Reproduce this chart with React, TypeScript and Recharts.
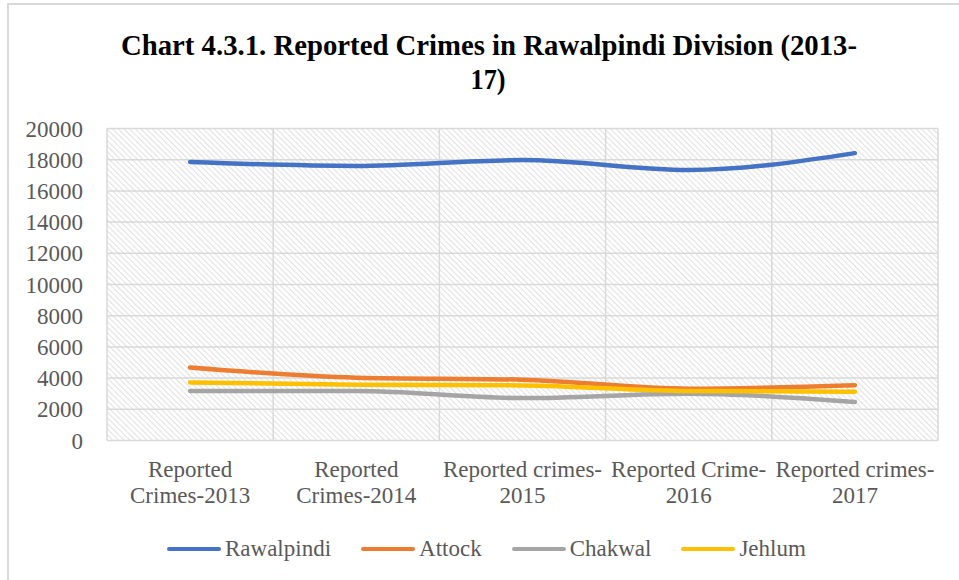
import React from 'react'
import { LineChart, Line, XAxis, YAxis, CartesianGrid, ReferenceLine } from 'recharts'

const categories = [
  'Reported\nCrimes-2013',
  'Reported\nCrimes-2014',
  'Reported crimes-\n2015',
  'Reported Crime-\n2016',
  'Reported crimes-\n2017',
]
const rawalpindi = [17850, 17600, 17980, 17340, 18420]
const attock = [4680, 4030, 3900, 3320, 3540]
const chakwal = [3170, 3170, 2720, 3000, 2470]
const jehlum = [3720, 3580, 3530, 3170, 3130]
const yTicks = [0, 2000, 4000, 6000, 8000, 10000, 12000, 14000, 16000, 18000, 20000]

const series = [
  { key: 'Rawalpindi', values: rawalpindi, color: '#4472C4' },
  { key: 'Attock', values: attock, color: '#ED7D31' },
  { key: 'Chakwal', values: chakwal, color: '#A5A5A5' },
  { key: 'Jehlum', values: jehlum, color: '#FFC000' },
]

const data = categories.map((c, i) => {
  const row: Record<string, number | string> = { idx: i, name: c }
  series.forEach((s) => (row[s.key] = s.values[i]))
  return row
})

// boundaries between categories (Excel draws the vertical grid there)
const bounds = [...categories.map((_, i) => i - 0.5), categories.length - 0.5]

const FONT = 'Liberation Serif, Times New Roman, serif'
const TEXT = '#595959'
const GRID = '#d9d9d9'

const XTick = (props: any) => {
  const { x, y, payload } = props
  const lines = categories[payload.value].split('\n')
  return (
    <text x={x} y={y} textAnchor="middle" fill={TEXT} style={{ fontSize: 23, fontFamily: FONT }}>
      {lines.map((l, i) => (
        <tspan key={i} x={x} dy={i === 0 ? 28 : 26}>
          {l}
        </tspan>
      ))}
    </text>
  )
}

const YTick = (props: any) => {
  const { x, y, payload } = props
  return (
    <text x={x} y={y} dy={8} textAnchor="end" fill={TEXT} style={{ fontSize: 23, fontFamily: FONT }}>
      {payload.value}
    </text>
  )
}

export default function App() {
  return (
    <div style={{ position: 'absolute', left: 0, top: 0, width: 959, height: 580, background: '#fff', fontFamily: FONT, overflow: 'hidden' }}>
      {/* cropped chart frame */}
      <div style={{ position: 'absolute', left: 7, top: 3, width: 980, height: 600, borderLeft: `2px solid ${GRID}`, borderTop: `2px solid ${GRID}` }} />

      <svg width={959} height={110} style={{ position: 'absolute', left: 0, top: 0 }}>
        <text x={489} y={55} textAnchor="middle" fill="#000" textLength={736} lengthAdjust="spacingAndGlyphs"
          style={{ fontSize: 30, fontWeight: 'bold', fontFamily: FONT }}>
          Chart 4.3.1. Reported Crimes in Rawalpindi Division (2013-
        </text>
        <text x={488} y={89} textAnchor="middle" fill="#000" textLength={35} lengthAdjust="spacingAndGlyphs"
          style={{ fontSize: 30, fontWeight: 'bold', fontFamily: FONT }}>
          17)
        </text>
      </svg>

      <div style={{ position: 'absolute', left: 0, top: 0 }}>
        <LineChart width={959} height={580} data={data} margin={{ top: 128.5, right: 21, bottom: 0, left: 0 }}>
          <defs>
            <pattern id="hatch" patternUnits="userSpaceOnUse" width={4} height={4} patternTransform="rotate(-45)">
              <line x1={0} y1={0} x2={0} y2={4} stroke="#cfcfcf" strokeWidth={1.3} />
            </pattern>
          </defs>
          <CartesianGrid vertical={false} stroke={GRID} strokeWidth={1.5} fill="url(#hatch)" fillOpacity={1} />
          {bounds.map((b) => (
            <ReferenceLine key={b} x={b} stroke={GRID} strokeWidth={1.5} />
          ))}
          <XAxis
            dataKey="idx"
            type="number"
            domain={[-0.5, categories.length - 0.5]}
            ticks={categories.map((_, i) => i)}
            interval={0}
            axisLine={false}
            tickLine={false}
            height={139.5}
            tick={<XTick />}
          />
          <YAxis
            domain={[0, 20000]}
            ticks={yTicks}
            interval={0}
            axisLine={false}
            tickLine={false}
            tickSize={0}
            tickMargin={24}
            width={107}
            tick={<YTick />}
          />
          {series.map((s) => (
            <Line
              key={s.key}
              dataKey={s.key}
              type="monotone"
              stroke={s.color}
              strokeWidth={4.5}
              strokeLinecap="round"
              dot={false}
              activeDot={false}
              isAnimationActive={false}
            />
          ))}
        </LineChart>
      </div>

      <div style={{ position: 'absolute', left: 167, top: 534, display: 'flex', alignItems: 'center', gap: 30 }}>
        {series.map((s) => (
          <div key={s.key} style={{ display: 'flex', alignItems: 'center', gap: 4 }}>
            <span style={{ display: 'inline-block', width: 54, height: 4.5, borderRadius: 3, background: s.color }} />
            <span style={{ fontSize: 23, color: TEXT, lineHeight: '30px', fontFamily: FONT }}>{s.key}</span>
          </div>
        ))}
      </div>
    </div>
  )
}
